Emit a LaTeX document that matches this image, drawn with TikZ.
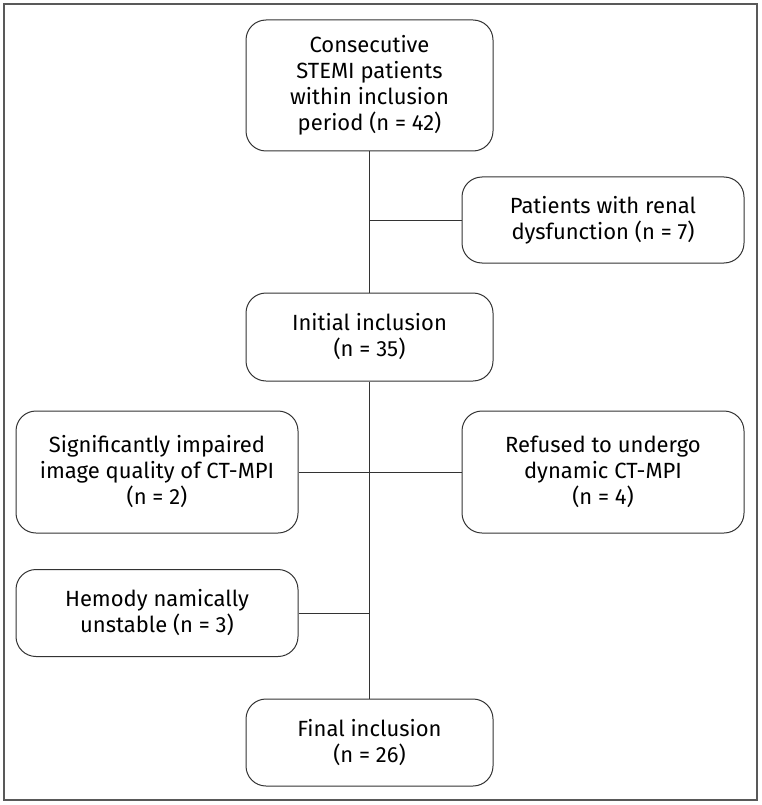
\documentclass[tikz,border=0pt]{standalone}
\usepackage{fontspec}
\setmainfont{Fira Sans}
\usepackage{tikz}
\usetikzlibrary{positioning,calc}

\tikzset{
    flowbox/.style={draw=black!80, line width=1pt, rounded corners=20pt, align=center,
        font=\fontsize{22}{26}\selectfont, inner sep=0pt},
    wide/.style={flowbox, minimum width=282pt},
    narrow/.style={flowbox, minimum width=247pt},
    link/.style={black!80, line width=1pt}
}

\begin{document}
\begin{tikzpicture}[x=1pt, y=-1pt]

        \useasboundingbox (0, 0) rectangle (761, 805);
        \draw[black!65, line width=1.5pt] (4, 4) rectangle (757, 800);

        % main column
        \node[narrow, minimum height=131pt] (start) at (369.5, 85.5) {Consecutive\\STEMI patients\\within inclusion\\period (n = 42)};
        \node[narrow, minimum height=88pt] (initial) at (369.5, 337) {Initial inclusion\\(n = 35)};
        \node[narrow, minimum height=87pt] (final) at (369.5, 742.5) {Final inclusion\\(n = 26)};

        % exclusions
        \node[wide, minimum height=86pt] (renal) at (603, 220) {Patients with renal\\dysfunction (n = 7)};
        \node[wide, minimum height=122pt] (quality) at (157, 472) {Significantly impaired\\image quality of CT-MPI\\(n = 2)};
        \node[wide, minimum height=122pt] (refused) at (603, 472) {Refused to undergo\\dynamic CT-MPI\\(n = 4)};
        \node[wide, minimum height=87pt] (unstable) at (157, 613) {Hemody namically\\unstable (n = 3)};

        \draw[link] (start.south) -- (initial.north);
        \draw[link] (initial.south) -- (final.north);
        \draw[link] (renal.west) -- (renal.west -| start.south);
        \draw[link] (quality.east) -- (refused.west);
        \draw[link] (unstable.east) -- (unstable.east -| initial.south);

    \end{tikzpicture}
\end{document}
